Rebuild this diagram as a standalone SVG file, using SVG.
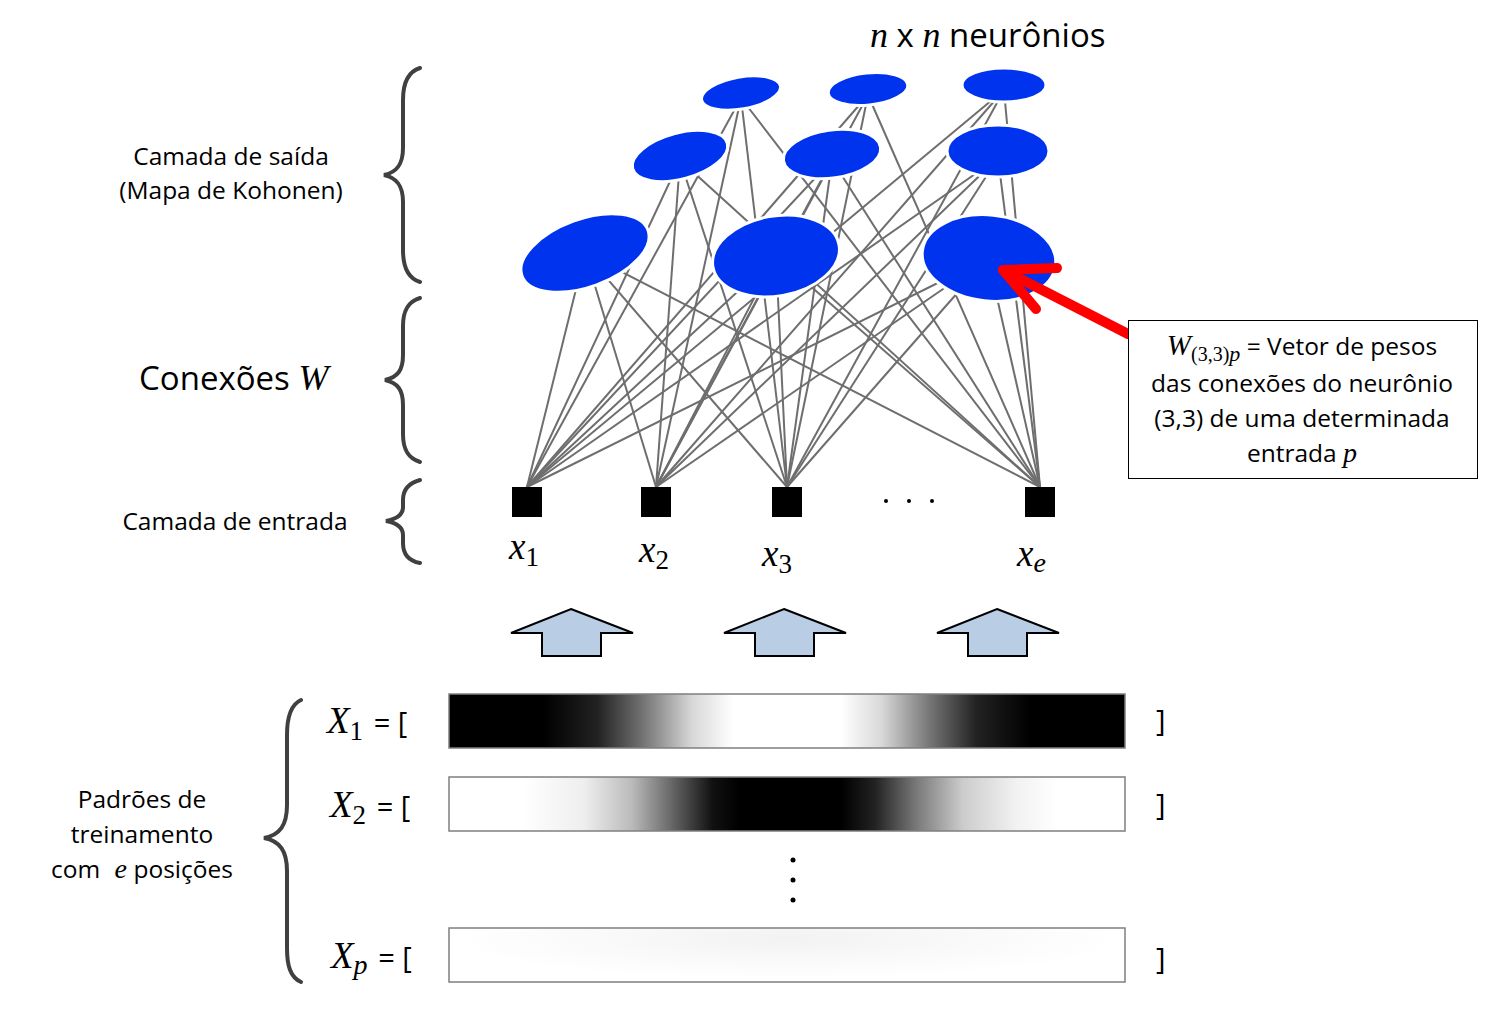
<svg xmlns="http://www.w3.org/2000/svg" width="1490" height="1020" viewBox="0 0 1490 1020">
<style>
.t{font-family:"Open Sans","Liberation Sans",sans-serif;fill:#000}
.m{font-family:"Liberation Serif","DejaVu Serif",serif;font-style:italic;fill:#000}
.mu{font-family:"Liberation Serif","DejaVu Serif",serif;fill:#000}
.br{fill:none;stroke:#404040;stroke-width:4;stroke-linecap:round}
.cn line{stroke:#6e6e6e;stroke-width:2}
.neu{fill:#0033ee;stroke:#fff;stroke-width:3}
.inp{fill:#000}
.up{fill:#b9cde5;stroke:#000;stroke-width:2;stroke-linejoin:miter}
.bar{stroke:#7f7f7f;stroke-width:1.5}
</style>
<defs>
<linearGradient id="g1" x1="0" y1="0" x2="1" y2="0">
<stop offset="0" stop-color="#000"/><stop offset="0.14" stop-color="#000"/><stop offset="0.22" stop-color="#222"/><stop offset="0.29" stop-color="#777"/><stop offset="0.36" stop-color="#d8d8d8"/><stop offset="0.42" stop-color="#fff"/><stop offset="0.58" stop-color="#fff"/><stop offset="0.64" stop-color="#d8d8d8"/><stop offset="0.71" stop-color="#777"/><stop offset="0.78" stop-color="#222"/><stop offset="0.86" stop-color="#000"/><stop offset="1" stop-color="#000"/>
</linearGradient>
<linearGradient id="g2" x1="0" y1="0" x2="1" y2="0">
<stop offset="0" stop-color="#fff"/><stop offset="0.11" stop-color="#fff"/><stop offset="0.2" stop-color="#eee"/><stop offset="0.27" stop-color="#bbb"/><stop offset="0.33" stop-color="#666"/><stop offset="0.39" stop-color="#111"/><stop offset="0.43" stop-color="#000"/><stop offset="0.58" stop-color="#000"/><stop offset="0.63" stop-color="#222"/><stop offset="0.69" stop-color="#777"/><stop offset="0.76" stop-color="#ccc"/><stop offset="0.84" stop-color="#f2f2f2"/><stop offset="0.9" stop-color="#fff"/><stop offset="1" stop-color="#fff"/>
</linearGradient>
<radialGradient id="g3" cx="0.5" cy="0.2" r="0.5" gradientTransform="translate(0.5 0.2) scale(1 1.5) translate(-0.5 -0.2)">
<stop offset="0" stop-color="#f2f2f2"/><stop offset="0.6" stop-color="#fafafa"/><stop offset="1" stop-color="#fff"/>
</radialGradient>
</defs>
<rect width="1490" height="1020" fill="#fff"/>

<g id="title">
<text x="870" y="47" font-size="33"><tspan class="m" font-size="36">n</tspan><tspan class="t"> x </tspan><tspan class="m" font-size="36">n</tspan><tspan class="t"> neurônios</tspan></text>
</g>

<g id="label-saida">
<text class="t" x="231" y="165" font-size="24.5" text-anchor="middle">Camada de saída</text>
<text class="t" x="231" y="199" font-size="24.5" text-anchor="middle">(Mapa de Kohonen)</text>
<path class="br" d="M420,68 C407,72 403,84 403,100 L403,148 C403,163 398,172 384,175 C398,178 403,187 403,202 L403,250 C403,266 407,278 420,282"/>
</g>
<g id="label-conexoes">
<text x="139" y="390" font-size="33"><tspan class="t">Conexões </tspan><tspan class="m" font-size="36">W</tspan></text>
<path class="br" d="M420,298 C407,302 403,312 403,326 L403,355 C403,370 398,377 385,380 C398,383 403,390 403,405 L403,434 C403,448 407,458 420,462"/>
</g>
<g id="label-entrada">
<text class="t" x="235" y="530" font-size="24.5" text-anchor="middle">Camada de entrada</text>
<path class="br" d="M420,480 C409,483 403,490 403,500 L403,507 C403,515 397,519 386,521 C397,523 403,527 403,535 L403,543 C403,554 409,561 420,563"/>
</g>
<g id="label-padroes">
<text class="t" x="142" y="808" font-size="24.5" text-anchor="middle">Padrões de</text>
<text class="t" x="142" y="843" font-size="24.5" text-anchor="middle">treinamento</text>
<text x="142" y="878" font-size="24.5" text-anchor="middle"><tspan class="t">com </tspan><tspan class="m" font-size="28" dx="8">e</tspan><tspan class="t"> posições</tspan></text>
<path class="br" d="M301,700 C290,705 287,718 287,735 L287,805 C287,825 280,835 264,838 C280,841 287,851 287,871 L287,948 C287,965 290,977 301,982"/>
</g>

<g id="connectors" class="cn">
<line x1="527" y1="487" x2="585" y2="253"/><line x1="527" y1="487" x2="776" y2="256"/><line x1="527" y1="487" x2="988" y2="258"/>
<line x1="527" y1="487" x2="680" y2="160"/><line x1="527" y1="487" x2="832" y2="160"/><line x1="527" y1="487" x2="998" y2="158"/>
<line x1="527" y1="487" x2="741" y2="98"/><line x1="527" y1="487" x2="868" y2="95"/><line x1="527" y1="487" x2="1004" y2="90"/>
<line x1="656" y1="487" x2="585" y2="253"/><line x1="656" y1="487" x2="776" y2="256"/><line x1="656" y1="487" x2="988" y2="258"/>
<line x1="656" y1="487" x2="680" y2="160"/><line x1="656" y1="487" x2="832" y2="160"/><line x1="656" y1="487" x2="998" y2="158"/>
<line x1="656" y1="487" x2="741" y2="98"/><line x1="656" y1="487" x2="868" y2="95"/><line x1="656" y1="487" x2="1004" y2="90"/>
<line x1="787" y1="487" x2="585" y2="253"/><line x1="787" y1="487" x2="776" y2="256"/><line x1="787" y1="487" x2="988" y2="258"/>
<line x1="787" y1="487" x2="680" y2="160"/><line x1="787" y1="487" x2="832" y2="160"/><line x1="787" y1="487" x2="998" y2="158"/>
<line x1="787" y1="487" x2="741" y2="98"/><line x1="787" y1="487" x2="868" y2="95"/><line x1="787" y1="487" x2="1004" y2="90"/>
<line x1="1040" y1="487" x2="585" y2="253"/><line x1="1040" y1="487" x2="776" y2="256"/><line x1="1040" y1="487" x2="988" y2="258"/>
<line x1="1040" y1="487" x2="680" y2="160"/><line x1="1040" y1="487" x2="832" y2="160"/><line x1="1040" y1="487" x2="998" y2="158"/>
<line x1="1040" y1="487" x2="741" y2="98"/><line x1="1040" y1="487" x2="868" y2="95"/><line x1="1040" y1="487" x2="1004" y2="90"/>
</g>

<g id="n-1-1"><ellipse class="neu" cx="741" cy="93" rx="40" ry="16" transform="rotate(-10 741 93)"/></g>
<g id="n-1-2"><ellipse class="neu" cx="868" cy="89" rx="40" ry="16" transform="rotate(-6 868 89)"/></g>
<g id="n-1-3"><ellipse class="neu" cx="1004" cy="85" rx="42" ry="17"/></g>
<g id="n-2-1"><ellipse class="neu" cx="680" cy="156" rx="49" ry="23" transform="rotate(-15 680 156)"/></g>
<g id="n-2-2"><ellipse class="neu" cx="832" cy="154" rx="49" ry="24" transform="rotate(-8 832 154)"/></g>
<g id="n-2-3"><ellipse class="neu" cx="998" cy="151" rx="51" ry="26"/></g>
<g id="n-3-1"><ellipse class="neu" cx="585" cy="253" rx="67" ry="34" transform="rotate(-20 585 253)"/></g>
<g id="n-3-2"><ellipse class="neu" cx="776" cy="256" rx="64" ry="40" transform="rotate(-10 776 256)"/></g>
<g id="n-3-3"><ellipse class="neu" cx="989" cy="258" rx="67" ry="43" transform="rotate(6 989 258)"/></g>

<g id="in-1"><rect class="inp" x="512" y="487" width="30" height="30"/><text x="509" y="559" font-size="37"><tspan class="m">x</tspan><tspan class="mu" font-size="27" dy="7">1</tspan></text></g>
<g id="in-2"><rect class="inp" x="641" y="487" width="30" height="30"/><text x="639" y="562" font-size="37"><tspan class="m">x</tspan><tspan class="mu" font-size="27" dy="7">2</tspan></text></g>
<g id="in-3"><rect class="inp" x="772" y="487" width="30" height="30"/><text x="762" y="566" font-size="37"><tspan class="m">x</tspan><tspan class="mu" font-size="27" dy="7">3</tspan></text></g>
<g id="dots-h"><circle cx="886" cy="501" r="2"/><circle cx="909" cy="501" r="2"/><circle cx="932" cy="501" r="2"/></g>
<g id="in-e"><rect class="inp" x="1025" y="487" width="30" height="30"/><text x="1017" y="566" font-size="37"><tspan class="m">x</tspan><tspan class="m" font-size="28" dy="6">e</tspan></text></g>

<g id="pointer" fill="none" stroke="#ff0000" stroke-width="10" stroke-linecap="round" stroke-linejoin="round">
<path d="M1128,334 L1003,270"/>
<path d="M1057,268 L1003,270 L1036,309"/>
</g>

<g id="note">
<rect x="1128.5" y="320.5" width="349" height="158" fill="#fff" stroke="#000" stroke-width="1"/>
<text x="1302" y="355" font-size="24.5" text-anchor="middle"><tspan class="m" font-size="29">W</tspan><tspan class="mu" font-size="20" dy="6">(3,3)</tspan><tspan class="m" font-size="22">p</tspan><tspan class="t" dy="-6"> = Vetor de pesos</tspan></text>
<text class="t" x="1302" y="392" font-size="24.5" text-anchor="middle">das conexões do neurônio</text>
<text class="t" x="1302" y="427" font-size="24.5" text-anchor="middle">(3,3) de uma determinada</text>
<text x="1302" y="462" font-size="24.5" text-anchor="middle"><tspan class="t">entrada </tspan><tspan class="m" font-size="28">p</tspan></text>
</g>

<g id="arrow-1"><polygon class="up" points="571,609 633,633 601,633 601,656 542,656 542,633 511,633"/></g>
<g id="arrow-2"><polygon class="up" points="784,609 846,633 814,633 814,656 755,656 755,633 724,633"/></g>
<g id="arrow-3"><polygon class="up" points="997,609 1059,633 1027,633 1027,656 968,656 968,633 937,633"/></g>

<g id="X1">
<text x="327" y="733" font-size="37"><tspan class="m">X</tspan><tspan class="mu" font-size="27" dy="7">1</tspan><tspan class="t" font-size="29" dy="-7" dx="3"> = [</tspan></text>
<rect class="bar" x="449" y="694" width="676" height="54" fill="url(#g1)"/>
<text class="t" x="1156" y="731" font-size="29">]</text>
</g>
<g id="X2">
<text x="330" y="817" font-size="37"><tspan class="m">X</tspan><tspan class="mu" font-size="27" dy="7">2</tspan><tspan class="t" font-size="29" dy="-7" dx="3"> = [</tspan></text>
<rect class="bar" x="449" y="777" width="676" height="54" fill="url(#g2)"/>
<text class="t" x="1156" y="815" font-size="29">]</text>
</g>
<g id="dots-v"><circle cx="793" cy="860" r="2.5"/><circle cx="793" cy="880" r="2.5"/><circle cx="793" cy="900" r="2.5"/></g>
<g id="Xp">
<text x="331" y="968" font-size="37"><tspan class="m">X</tspan><tspan class="m" font-size="28" dy="6">p</tspan><tspan class="t" font-size="29" dy="-6" dx="3"> = [</tspan></text>
<rect class="bar" x="449" y="928" width="676" height="54" fill="url(#g3)"/>
<text class="t" x="1156" y="969" font-size="29">]</text>
</g>
</svg>
